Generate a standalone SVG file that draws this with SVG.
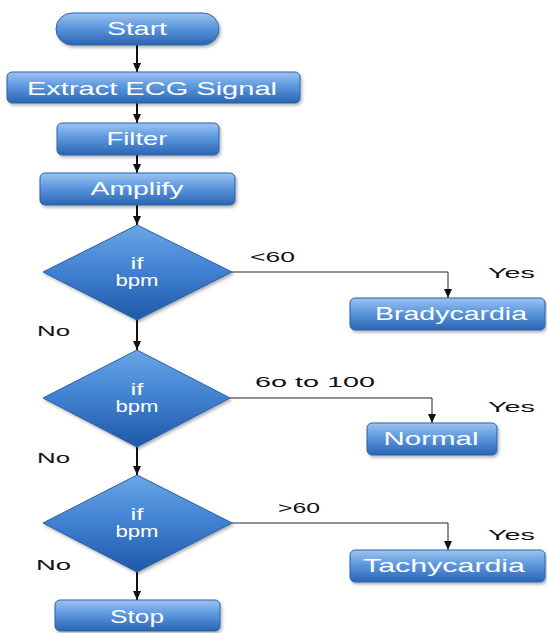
<svg xmlns="http://www.w3.org/2000/svg" width="547" height="633" viewBox="0 0 547 633">
  <defs>
    <linearGradient id="boxFill" x1="0" y1="0" x2="0" y2="1">
      <stop offset="0" stop-color="#9cc4f0"/>
      <stop offset="0.45" stop-color="#5d98de"/>
      <stop offset="1" stop-color="#2b64b3"/>
    </linearGradient>
    <linearGradient id="diaFill" x1="0" y1="0" x2="0" y2="1">
      <stop offset="0" stop-color="#6aa5e6"/>
      <stop offset="0.5" stop-color="#3f80d0"/>
      <stop offset="1" stop-color="#1f58a6"/>
    </linearGradient>
    <filter id="shadow" x="-10%" y="-20%" width="125%" height="150%">
      <feDropShadow dx="1.5" dy="2" stdDeviation="1.5" flood-color="#000" flood-opacity="0.3"/>
    </filter>
    <marker id="arrow" markerWidth="10" markerHeight="10" refX="9" refY="5" orient="auto" markerUnits="userSpaceOnUse">
      <path d="M0,1 L9,5 L0,9 Z" fill="#111"/>
    </marker>
  </defs>
  <style>
    .box { fill: url(#boxFill); stroke: #2f63a8; stroke-width: 1; filter: url(#shadow); }
    .dia { fill: url(#diaFill); stroke: #2a5ea6; stroke-width: 1; filter: url(#shadow); }
    .lbl { font-family: "Liberation Sans", Arial, sans-serif; font-size: 18px; fill: #fff; text-anchor: middle; }
    .dlbl { font-family: "Liberation Sans", Arial, sans-serif; font-size: 16px; fill: #fff; text-anchor: middle; }
    .note { font-family: "Liberation Sans", Arial, sans-serif; font-size: 15px; fill: #111; }
    .flow { stroke: #111; stroke-width: 2; fill: none; marker-end: url(#arrow); }
    .branch { stroke: #222; stroke-width: 1; fill: none; marker-end: url(#arrow); }
  </style>

  <!-- connectors -->
  <g id="connectors">
    <line class="flow" x1="137" y1="45" x2="137" y2="72"/>
    <line class="flow" x1="137" y1="103" x2="137" y2="123"/>
    <line class="flow" x1="137" y1="155" x2="137" y2="173"/>
    <line class="flow" x1="137" y1="205" x2="137" y2="225"/>
    <line class="flow" x1="137" y1="320" x2="137" y2="350"/>
    <line class="flow" x1="137" y1="447" x2="137" y2="475"/>
    <line class="flow" x1="137" y1="572" x2="137" y2="600"/>
    <polyline class="branch" points="232,272 448,272 448,298"/>
    <polyline class="branch" points="230,398 432,398 432,423"/>
    <polyline class="branch" points="232,523 448,523 448,550"/>
    <text class="note" x="250" y="262" textLength="45" lengthAdjust="spacingAndGlyphs">&lt;60</text>
    <text class="note" x="488" y="278" textLength="47" lengthAdjust="spacingAndGlyphs">Yes</text>
    <text class="note" x="37" y="336" textLength="33" lengthAdjust="spacingAndGlyphs">No</text>
    <text class="note" x="255" y="387" textLength="120" lengthAdjust="spacingAndGlyphs">6o to 100</text>
    <text class="note" x="488" y="412" textLength="47" lengthAdjust="spacingAndGlyphs">Yes</text>
    <text class="note" x="37" y="463" textLength="33" lengthAdjust="spacingAndGlyphs">No</text>
    <text class="note" x="278" y="513" textLength="42" lengthAdjust="spacingAndGlyphs">&gt;60</text>
    <text class="note" x="488" y="540" textLength="47" lengthAdjust="spacingAndGlyphs">Yes</text>
    <text class="note" x="36" y="570" textLength="35" lengthAdjust="spacingAndGlyphs">No</text>
  </g>

  <g id="start">
    <rect class="box" x="56" y="13" width="163" height="32" rx="16" ry="16"/>
    <text class="lbl" x="137" y="35" textLength="60" lengthAdjust="spacingAndGlyphs">Start</text>
  </g>
  <g id="extract">
    <rect class="box" x="7" y="72" width="293" height="31" rx="5"/>
    <text class="lbl" x="152" y="95" textLength="250" lengthAdjust="spacingAndGlyphs">Extract ECG Signal</text>
  </g>
  <g id="filter">
    <rect class="box" x="57" y="123" width="162" height="32" rx="5"/>
    <text class="lbl" x="137" y="145" textLength="61" lengthAdjust="spacingAndGlyphs">Filter</text>
  </g>
  <g id="amplify">
    <rect class="box" x="40" y="173" width="195" height="32" rx="5"/>
    <text class="lbl" x="137" y="195" textLength="93" lengthAdjust="spacingAndGlyphs">Amplify</text>
  </g>

  <g id="decision1">
    <path class="dia" d="M137,225 L232,272 L137,320 L43,272 Z" stroke-linejoin="round"/>
    <text class="dlbl" x="137" y="269" textLength="13" lengthAdjust="spacingAndGlyphs">if</text>
    <text class="dlbl" x="137" y="286" textLength="43" lengthAdjust="spacingAndGlyphs">bpm</text>
  </g>
  <g id="bradycardia">
    <rect class="box" x="350" y="298" width="195" height="32" rx="5"/>
    <text class="lbl" x="451" y="320" textLength="152" lengthAdjust="spacingAndGlyphs">Bradycardia</text>
  </g>

  <g id="decision2">
    <path class="dia" d="M137,350 L230,398 L137,447 L43,398 Z" stroke-linejoin="round"/>
    <text class="dlbl" x="137" y="395" textLength="13" lengthAdjust="spacingAndGlyphs">if</text>
    <text class="dlbl" x="137" y="412" textLength="43" lengthAdjust="spacingAndGlyphs">bpm</text>
  </g>
  <g id="normal">
    <rect class="box" x="367" y="423" width="130" height="32" rx="5"/>
    <text class="lbl" x="431" y="445" textLength="95" lengthAdjust="spacingAndGlyphs">Normal</text>
  </g>

  <g id="decision3">
    <path class="dia" d="M137,475 L232,523 L137,572 L43,523 Z" stroke-linejoin="round"/>
    <text class="dlbl" x="137" y="520" textLength="13" lengthAdjust="spacingAndGlyphs">if</text>
    <text class="dlbl" x="137" y="537" textLength="43" lengthAdjust="spacingAndGlyphs">bpm</text>
  </g>
  <g id="tachycardia">
    <rect class="box" x="350" y="550" width="195" height="32" rx="5"/>
    <text class="lbl" x="444" y="572" textLength="162" lengthAdjust="spacingAndGlyphs">Tachycardia</text>
  </g>

  <g id="stop">
    <rect class="box" x="55" y="600" width="165" height="31" rx="5"/>
    <text class="lbl" x="137" y="623" textLength="54" lengthAdjust="spacingAndGlyphs">Stop</text>
  </g>
</svg>
